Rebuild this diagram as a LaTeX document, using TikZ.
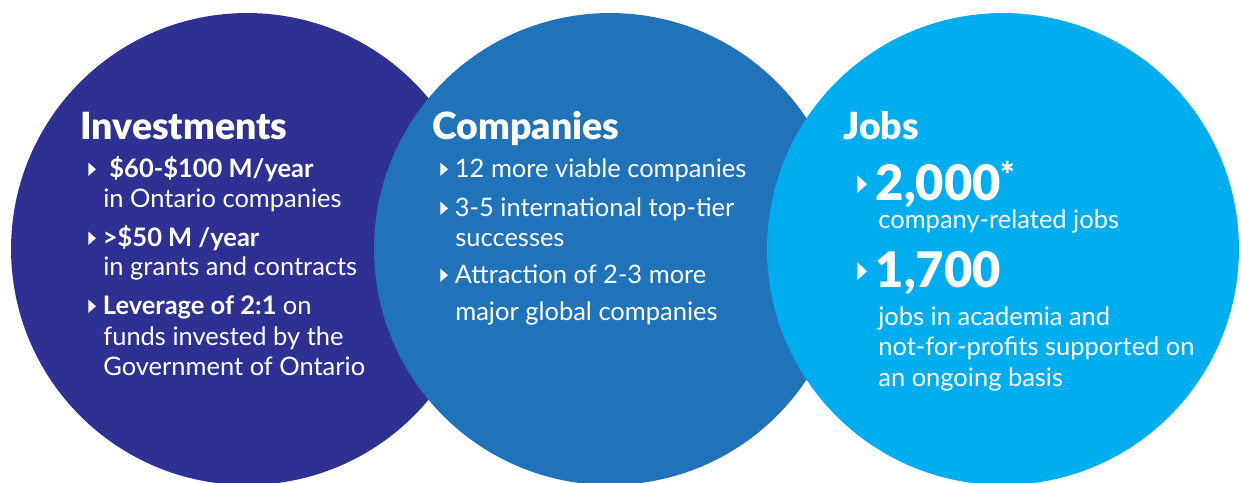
\documentclass[tikz,border=0pt]{standalone}
\usepackage{fontspec}
\setmainfont{Lato}
\newfontface\heavyfont{Lato Black}
\usepackage{xcolor}
\usetikzlibrary{positioning}

\definecolor{navy}{RGB}{46,49,146}
\definecolor{midblue}{RGB}{33,115,185}
\definecolor{skyblue}{RGB}{0,174,239}

% small white bullet triangle
\newcommand{\tri}{\tikz[baseline=0pt]\fill[white] (0pt,0.6pt) -- (0pt,8.2pt) -- (4.3pt,4.4pt) -- cycle;\hspace{4pt}}
\newcommand{\bigtri}{\tikz[baseline=0pt]\fill[white] (0pt,4pt) -- (0pt,14pt) -- (5.5pt,9pt) -- cycle;\hspace{5pt}}

\begin{document}
\begin{tikzpicture}[x=0.02cm, y=-0.02cm,
	disc/.style={circle, inner sep=0pt, minimum size=9.44cm},
	txt/.style={anchor=base west, inner sep=0pt, text=white, font=\fontsize{14.5}{17}\selectfont},
	head/.style={txt, font=\heavyfont\fontsize{21.3}{25}\selectfont},
	big/.style={txt, font=\heavyfont\fontsize{27.8}{32}\selectfont}]
	\useasboundingbox (0,0) rectangle (1241,483);
	
	\node[disc, fill=navy] (inv) at (247,249) {};
	\node[disc, fill=midblue] (comp) at (610,249) {};
	\node[disc, fill=skyblue] (jobs) at (1003,249) {};
	
	% Investments
	\node[head] (invhead) at (80,139) {Investments};
	\node[txt] (inv1) at (88,177) {\tri\ \textbf{\$60-\$100 M/year}};
	\node[txt] (inv1b) at (103,207) {in Ontario companies};
	\node[txt] (inv2) at (88,246) {\tri\textbf{>\$50 M /year}};
	\node[txt] (inv2b) at (103,275) {in grants and contracts};
	\node[txt] (inv3) at (88,314) {\tri\textbf{Leverage of 2:1} on};
	\node[txt] (inv3b) at (103,345) {funds invested by the};
	\node[txt] (inv3c) at (103,375) {Government of Ontario};
	
	% Companies
	\node[head] (comphead) at (432,139) {Companies};
	\node[txt] (comp1) at (440,177) {\tri 12 more viable companies};
	\node[txt] (comp2) at (440,216) {\tri 3-5 international top-tier};
	\node[txt] (comp2b) at (455,246) {successes};
	\node[txt] (comp3) at (440,283) {\tri Attraction of 2-3 more};
	\node[txt] (comp3b) at (455,320) {major global companies};
	
	% Jobs
	\node[head] (jobshead) at (843,139) {Jobs};
	\node[big] (jobs1) at (857,200) {\bigtri 2,000\raisebox{-2pt}{\textsuperscript{*}}};
	\node[txt] (jobs1b) at (878,228) {company-related jobs};
	\node[big] (jobs2) at (857,287) {\bigtri 1,700};
	\node[txt] (jobs2b) at (878,325) {jobs in academia and};
	\node[txt] (jobs2c) at (878,355) {not-for-profits supported on};
	\node[txt] (jobs2d) at (878,386) {an ongoing basis};
\end{tikzpicture}
\end{document}
